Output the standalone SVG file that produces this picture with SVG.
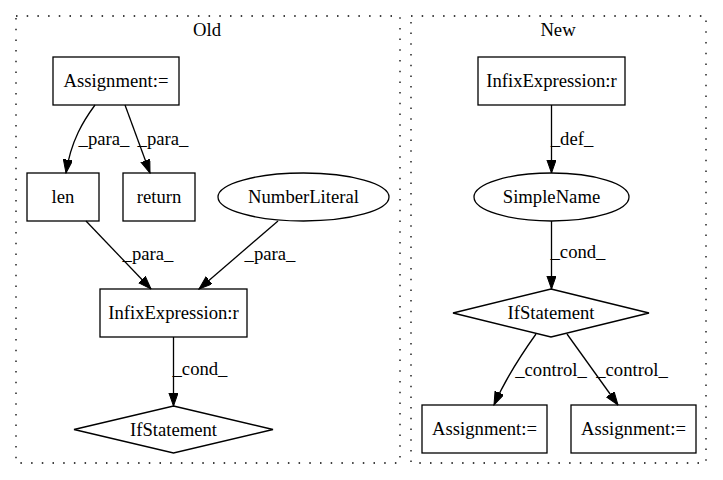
<svg xmlns="http://www.w3.org/2000/svg" width="723" height="480" viewBox="0 0 723 480">
<defs>
<marker id="arr" markerUnits="userSpaceOnUse" markerWidth="14" markerHeight="10" refX="13.3" refY="4.7" orient="auto">
<path d="M0,0 L13.3,4.7 L0,9.4 z" fill="#000" stroke="#000" stroke-width="1"/>
</marker>
<style>
.cl{fill:none;stroke:#000;stroke-width:1.3;stroke-dasharray:1.5,9.2}
.n{fill:#fff;stroke:#000;stroke-width:1.3}
text{font-family:"Liberation Serif","Times New Roman",serif;font-size:18.67px;fill:#000}
.c{text-anchor:middle}
.e{fill:none;stroke:#000;stroke-width:1.3;marker-end:url(#arr)}
</style>
</defs>
<rect width="723" height="480" fill="#fff"/>
<g id="cluster_old">
<rect class="cl" x="16" y="16" width="384" height="447"/>
<text class="c" x="207" y="36">Old</text>
</g>
<g id="cluster_new">
<rect class="cl" x="411" y="16" width="295" height="447"/>
<text class="c" x="558" y="36">New</text>
</g>
<g id="old_assign">
<rect class="n" x="53" y="57" width="126" height="48"/>
<text class="c" x="116" y="87">Assignment:=</text>
</g>
<g id="old_len">
<rect class="n" x="27" y="173" width="72" height="48"/>
<text class="c" x="63" y="203">len</text>
</g>
<g id="old_return">
<rect class="n" x="123" y="173" width="72" height="48"/>
<text class="c" x="159" y="203">return</text>
</g>
<g id="old_numlit">
<ellipse class="n" cx="303.5" cy="197" rx="85.5" ry="24"/>
<text class="c" x="303.5" y="203">NumberLiteral</text>
</g>
<g id="old_infix">
<rect class="n" x="100" y="289" width="147" height="48"/>
<text class="c" x="173.5" y="319">InfixExpression:r</text>
</g>
<g id="old_if">
<polygon class="n" points="173.5,406 273,429.5 173.5,453 74,429.5"/>
<text class="c" x="173.5" y="435.5">IfStatement</text>
</g>
<g id="new_infix">
<rect class="n" x="478" y="57" width="147" height="48"/>
<text class="c" x="551.5" y="87">InfixExpression:r</text>
</g>
<g id="new_simplename">
<ellipse class="n" cx="551.5" cy="197" rx="77.5" ry="24"/>
<text class="c" x="551.5" y="203">SimpleName</text>
</g>
<g id="new_if">
<polygon class="n" points="551,289 649,313 551,337 453,313"/>
<text class="c" x="551" y="319">IfStatement</text>
</g>
<g id="new_assign1">
<rect class="n" x="422" y="405" width="125" height="48"/>
<text class="c" x="484.5" y="435">Assignment:=</text>
</g>
<g id="new_assign2">
<rect class="n" x="571" y="405" width="125" height="48"/>
<text class="c" x="633.5" y="435">Assignment:=</text>
</g>
<g id="connectors">
<path class="e" d="M95,105 C84,120 71,140 66,173"/>
<text class="c" x="104" y="145">_para_</text>
<path class="e" d="M125,105 L150,173"/>
<text class="c" x="163" y="145">_para_</text>
<path class="e" d="M86,221 L151,289"/>
<text class="c" x="148" y="260">_para_</text>
<path class="e" d="M278,221 L199,289"/>
<text class="c" x="270" y="260">_para_</text>
<path class="e" d="M173.5,337 L173.5,406"/>
<text class="c" x="200" y="375">_cond_</text>
<path class="e" d="M551.5,105 L551.5,173"/>
<text class="c" x="572" y="145">_def_</text>
<path class="e" d="M551.5,221 L551.5,289"/>
<text class="c" x="578" y="258">_cond_</text>
<path class="e" d="M536,334 C521,355 505,380 494,405"/>
<text class="c" x="551" y="376">_control_</text>
<path class="e" d="M567,334 L618,405"/>
<text class="c" x="632" y="376">_control_</text>
</g>
</svg>
